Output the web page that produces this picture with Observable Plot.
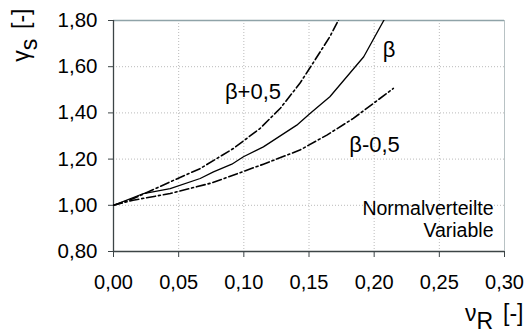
<!DOCTYPE html>
<html>
<head>
<meta charset="utf-8">
<script src="https://cdn.jsdelivr.net/npm/d3@7"></script>
<script src="https://cdn.jsdelivr.net/npm/@observablehq/plot@0.6"></script>
<style>
  html, body { margin: 0; padding: 0; background: #fff; }
  svg { font-family: Arial, "Liberation Sans", sans-serif; }
</style>
</head>
<body>
<div id="chart"></div>
<script>
// Data (x = ν_R, y = γ_s)
const betaX      = [0, 0.023, 0.0435, 0.0665, 0.0767, 0.0908, 0.0997, 0.115, 0.1406, 0.151, 0.166, 0.192, 0.209];
const betaY      = [1.0, 1.051, 1.072, 1.116, 1.145, 1.178, 1.21, 1.253, 1.347, 1.398, 1.47, 1.643, 1.817];
const betaPlusX  = [0, 0.0153, 0.046, 0.0665, 0.092, 0.1125, 0.128, 0.143, 0.153, 0.166, 0.174];
const betaPlusY  = [1.0, 1.029, 1.108, 1.159, 1.246, 1.333, 1.42, 1.528, 1.615, 1.73, 1.817];
const betaMinusX = [0, 0.015, 0.0435, 0.0755, 0.115, 0.143, 0.1637, 0.184, 0.2147];
const betaMinusY = [1.0, 1.022, 1.051, 1.097, 1.178, 1.239, 1.304, 1.376, 1.506];

const xTicks = [0, 0.05, 0.10, 0.15, 0.20, 0.25, 0.30];
const yTicks = [0.8, 1.0, 1.2, 1.4, 1.6, 1.8];

const curveLabels = ["β", "β+0,5", "β-0,5"];
const curveLabelX = [0.2114, 0.107, 0.2003];
const curveLabelY = [1.672, 1.49, 1.262];

const noteLines = ["Normalverteilte", "Variable"];

const toPts = (xs, ys) => xs.map((x, i) => ({x, y: ys[i]}));
const fmt = d => d3.format(".2f")(d).replace(".", ",");

const labelData = curveLabels.map((t, i) => ({t, x: curveLabelX[i], y: curveLabelY[i]}));

const axisColor = "#3c4446";
const dashDot = "9,3,2,3";

const plot = Plot.plot({
  width: 526,
  height: 333,
  marginLeft: 113,
  marginRight: 22,
  marginTop: 20,
  marginBottom: 82,
  style: {fontFamily: "Arial, 'Liberation Sans', sans-serif", background: "#fff"},
  x: {domain: [0, 0.3], ticks: xTicks},
  y: {domain: [0.8, 1.8], ticks: yTicks},
  marks: [
    Plot.gridX(xTicks.slice(1, -1), {stroke: "#bbb", strokeOpacity: 1, strokeDasharray: "1,2"}),
    Plot.gridY(yTicks.slice(1, -1), {stroke: "#bbb", strokeOpacity: 1, strokeDasharray: "1,2"}),
    Plot.ruleY([1.8], {stroke: "#8fa3a8", strokeWidth: 1.5}),
    Plot.ruleX([0.3], {stroke: "#b8c2c4", strokeWidth: 1}),
    Plot.axisX(xTicks, {tickSize: 6, tickPadding: 17, fontSize: 20, tickFormat: fmt, label: null, stroke: axisColor, color: "#000"}),
    Plot.axisY(yTicks, {tickSize: 5, tickPadding: 11, fontSize: 20.5, tickFormat: fmt, label: null, stroke: axisColor, color: "#000"}),
    Plot.ruleX([0], {stroke: axisColor, strokeWidth: 1.3}),
    Plot.ruleY([0.8], {stroke: axisColor, strokeWidth: 1.3}),
    Plot.line(toPts(betaX, betaY), {x: "x", y: "y", stroke: "#000", strokeWidth: 1.3, clip: true}),
    Plot.line(toPts(betaPlusX, betaPlusY), {x: "x", y: "y", stroke: "#000", strokeWidth: 1.6, strokeDasharray: dashDot, clip: true}),
    Plot.line(toPts(betaMinusX, betaMinusY), {x: "x", y: "y", stroke: "#000", strokeWidth: 1.6, strokeDasharray: dashDot, clip: true}),
    Plot.text(labelData, {x: "x", y: "y", text: "t", fontSize: 22, fill: "#000", textAnchor: "middle", lineAnchor: "middle"}),
    Plot.text([noteLines[0]], {frameAnchor: "bottom-right", dx: -11, dy: -42.5, fontSize: 19.5, fill: "#000", textAnchor: "end", lineAnchor: "middle"}),
    Plot.text([noteLines[1]], {frameAnchor: "bottom-right", dx: -11, dy: -20.5, fontSize: 19.5, fill: "#000", textAnchor: "end", lineAnchor: "middle"}),
    Plot.text(["γ|s| [-]"], {frameAnchor: "top-left", dx: -91.5, dy: -12, rotate: -90, fontSize: 23, fill: "#000", textAnchor: "end", lineAnchor: "middle"}),
    Plot.text(["ν|R| [-]"], {frameAnchor: "bottom-right", dx: 19, dy: 62.5, fontSize: 23, fill: "#000", textAnchor: "end", lineAnchor: "middle"})
  ]
});

// Turn "a|b| c" into a main glyph followed by a subscript
d3.select(plot).selectAll("text").each(function() {
  const el = d3.select(this);
  const s = el.text();
  if (s.includes("|")) {
    const [a, sub, rest] = s.split("|");
    el.text(null);
    el.append("tspan").text(a);
    el.append("tspan").attr("dy", "0.34em").text(sub);
    el.append("tspan").attr("dy", "-0.34em").attr("dx", "0.15em").text(rest);
  }
});

document.getElementById("chart").appendChild(plot);
</script>
</body>
</html>
